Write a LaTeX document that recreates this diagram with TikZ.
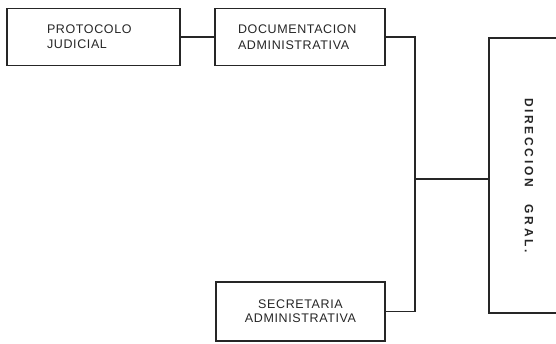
\documentclass[tikz,border=0pt]{standalone}
\usepackage{fontspec}
\setmainfont{Liberation Sans}
\newfontfamily\spacedfont[LetterSpace=5]{Liberation Sans}
\newfontfamily\widefont[LetterSpace=22]{Liberation Sans}
\definecolor{ink}{HTML}{262626}
\begin{document}
\begin{tikzpicture}[x=1pt,y=-1pt,
  box/.style={draw=ink, line width=1.5pt, rectangle, inner ysep=0pt, text=ink,
              font=\spacedfont\fontsize{12.5}{15}\selectfont},
  link/.style={draw=ink, line width=1.1pt}]
\useasboundingbox (0,0) rectangle (556,343);
\node[box, align=left, text width=93pt, inner xsep=40pt, minimum height=57pt]
  (P) at (93.5,37) {\raisebox{3pt}{\parbox{93pt}{PROTOCOLO\\JUDICIAL}}};
\node[box, align=left, text width=124pt, inner xsep=23pt, minimum height=57pt]
  (D) at (300,37) {\raisebox{3pt}{\parbox{124pt}{DOCUMENTACION\\[1pt]ADMINISTRATIVA}}};
\node[box, align=center, minimum width=169pt, minimum height=59pt,
  font=\spacedfont\fontsize{12.5}{14}\selectfont]
  (S) at (300.5,311.5) {SECRETARIA\\ADMINISTRATIVA};
\node[box, rotate=-90, minimum width=275pt, minimum height=80pt,
  font=\widefont\bfseries\fontsize{12}{12}\selectfont]
  (R) at (529,175.5) {DIRECCION\hspace{12pt} GRAL.};
\coordinate (T) at (415,0);
\coordinate (J) at (415,179);
\draw[link] (P.east) -- (D.west);
\draw[link] (D.east) -| (T |- S.east) -- (S.east);
\draw[link] (J) -- (J -| R.south);
\end{tikzpicture}
\end{document}
